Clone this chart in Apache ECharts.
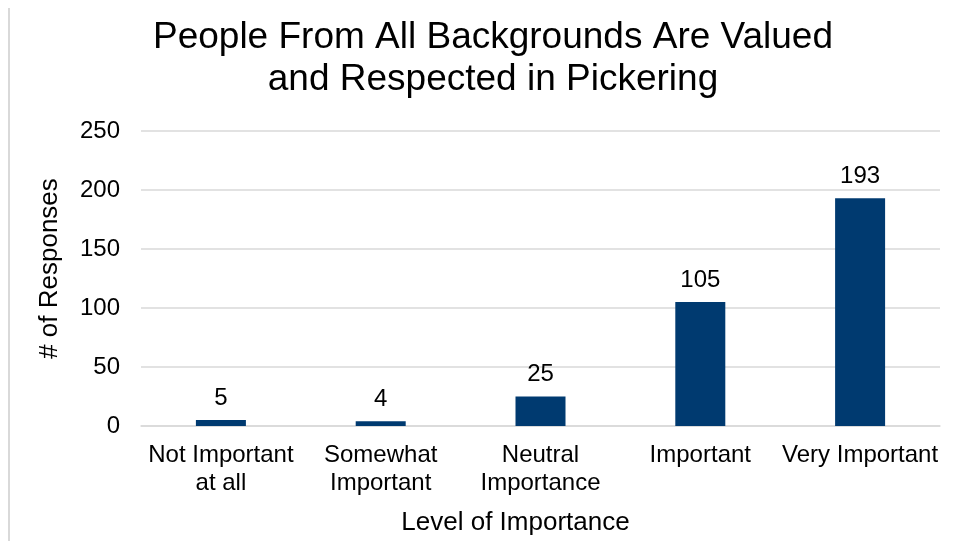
<!DOCTYPE html>
<html>
<head>
<meta charset="utf-8">
<script src="https://cdn.jsdelivr.net/npm/echarts@6/dist/echarts.min.js"></script>
<style>
html,body{margin:0;padding:0;background:#fff;}
#chart{width:956px;height:541px;}
</style>
</head>
<body>
<div id="chart"></div>
<script>
const titleText = "People From All Backgrounds Are Valued\nand Respected in Pickering";
const categories = ["Not Important\nat all", "Somewhat\nImportant", "Neutral\nImportance", "Important", "Very Important"];
const responses = [5, 4, 25, 105, 193];
const yTicks = { min: 0, max: 250, interval: 50 };
const xAxisName = "Level of Importance";
const yAxisName = "# of Responses";

const FONT = "'Liberation Sans', Arial, sans-serif";
const chart = echarts.init(document.getElementById('chart'), null, { renderer: 'canvas' });
chart.setOption({
  backgroundColor: '#ffffff',
  animation: false,
  textStyle: { fontFamily: FONT },
  graphic: [{
    type: 'rect',
    shape: { x: 8, y: 8, width: 2, height: 540 },
    style: { fill: '#d9d9d9' },
    silent: true
  }],
  title: {
    text: titleText,
    left: 488,
    top: 12,
    textAlign: 'center',
    textStyle: { fontFamily: FONT, fontSize: 37, fontWeight: 'normal', color: '#000', lineHeight: 42 }
  },
  grid: { left: 141, right: 16, top: 131, bottom: 106, containLabel: false },
  xAxis: {
    type: 'category',
    data: categories,
    name: xAxisName,
    nameLocation: 'middle',
    nameGap: 84,
    nameTextStyle: { fontFamily: FONT, fontSize: 26, color: '#000', padding: [0, 50, 0, 0] },
    axisLine: { show: true, lineStyle: { color: '#d9d9d9', width: 1.5 } },
    axisTick: { show: false },
    axisLabel: { fontFamily: FONT, fontSize: 24, color: '#000', lineHeight: 28, margin: 15, interval: 0 }
  },
  yAxis: {
    type: 'value',
    min: yTicks.min,
    max: yTicks.max,
    interval: yTicks.interval,
    name: yAxisName,
    nameLocation: 'middle',
    nameGap: 78,
    nameTextStyle: { fontFamily: FONT, fontSize: 26, color: '#000', padding: [0, 0, 0, 20] },
    axisLine: { show: false },
    axisTick: { show: false },
    axisLabel: { fontFamily: FONT, fontSize: 24, color: '#000', margin: 21 },
    splitLine: { lineStyle: { color: '#d9d9d9', width: 1.5 } }
  },
  series: [{
    type: 'bar',
    data: responses,
    barWidth: 50,
    itemStyle: { color: '#003A70' },
    label: { show: true, position: 'top', distance: 10, fontFamily: FONT, fontSize: 24, color: '#000' }
  }]
});
</script>
</body>
</html>
